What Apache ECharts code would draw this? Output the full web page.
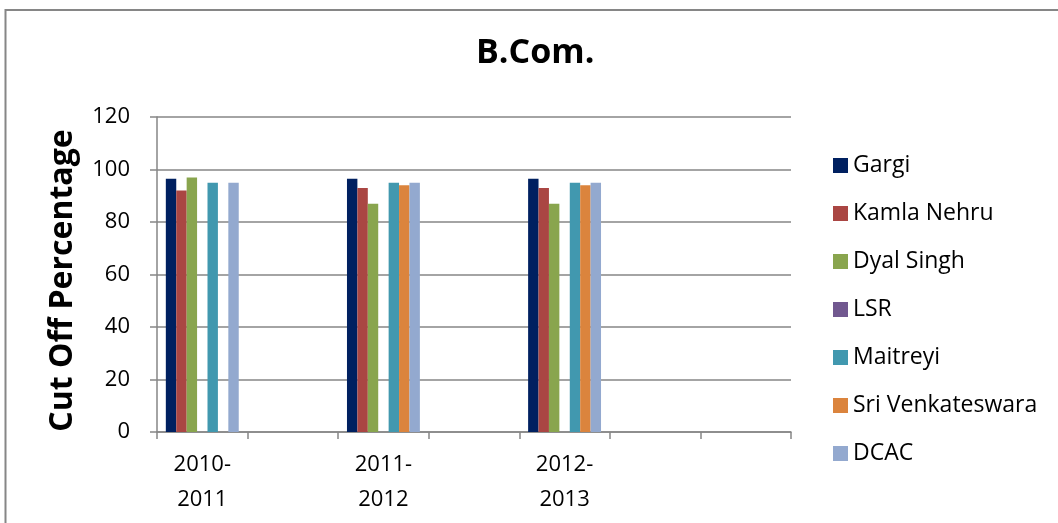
<!DOCTYPE html>
<html>
<head>
<meta charset="utf-8">
<script src="https://cdn.jsdelivr.net/npm/echarts@6/dist/echarts.min.js"></script>
<style>
  html, body { margin: 0; padding: 0; background: #fff; }
  #main { width: 1058px; height: 523px; }
</style>
</head>
<body>
<div id="main"></div>
<script>
// categories (empty slots are the blank categories on the x axis)
var years = ['2010-\n2011', '', '2011-\n2012', '', '2012-\n2013', '', ''];
var yTicks = [0, 20, 40, 60, 80, 100, 120];

var gargi = [96.5, null, 96.5, null, 96.5, null, null];
var kamlaNehru = [92, null, 93, null, 93, null, null];
var dyalSingh = [97, null, 87, null, 87, null, null];
var lsr = [null, null, null, null, null, null, null];
var maitreyi = [95, null, 95, null, 95, null, null];
var sriVenkateswara = [null, null, 94, null, 94, null, null];
var dcac = [95, null, 95, null, 95, null, null];

var colleges = ['Gargi', 'Kamla Nehru', 'Dyal Singh', 'LSR', 'Maitreyi', 'Sri Venkateswara', 'DCAC'];
var values = [gargi, kamlaNehru, dyalSingh, lsr, maitreyi, sriVenkateswara, dcac];
var colors = ['#002060', '#AA4643', '#89A54E', '#71588F', '#4198AF', '#DB843D', '#93A9CF'];

var font = 'Open Sans';

var series = colleges.map(function (name, i) {
  return {
    name: name,
    type: 'bar',
    data: values[i],
    barWidth: '11.5%',
    barGap: '0%',
    itemStyle: { color: colors[i] }
  };
});

var myChart = echarts.init(document.getElementById('main'));
myChart.setOption({
  backgroundColor: '#fff',
  animation: false,
  color: colors,
  title: {
    text: 'B.Com.',
    left: 476,
    top: 36,
    padding: 0,
    textStyle: { fontFamily: font, fontSize: 34, fontWeight: 'bold', color: '#000' }
  },
  graphic: [{
    type: 'rect',
    shape: { x: 5.5, y: 10, width: 1070, height: 540 },
    style: { fill: null, stroke: '#868686', lineWidth: 2 },
    silent: true
  }],
  legend: {
    orient: 'vertical',
    left: 833,
    top: 154,
    itemWidth: 15,
    itemHeight: 15,
    itemGap: 25,
    icon: 'rect',
    padding: 0,
    data: colleges,
    textStyle: { fontFamily: font, fontSize: 23, color: '#000' }
  },
  grid: {
    left: 157,
    top: 117,
    width: 634,
    height: 315
  },
  xAxis: {
    type: 'category',
    data: years,
    boundaryGap: true,
    axisLine: { lineStyle: { color: '#868686', width: 1.5 } },
    axisTick: { show: true, length: 7, lineStyle: { color: '#868686', width: 1.5 } },
    axisLabel: {
      interval: 0,
      margin: 15,
      fontFamily: font,
      fontSize: 22,
      lineHeight: 35,
      color: '#000'
    }
  },
  yAxis: {
    type: 'value',
    min: yTicks[0],
    max: yTicks[yTicks.length - 1],
    interval: 20,
    name: 'Cut Off Percentage',
    nameLocation: 'middle',
    nameRotate: 90,
    nameGap: 78,
    nameTextStyle: { fontFamily: font, fontSize: 32, fontWeight: 'bold', color: '#000', padding: [0, 12, 0, 0] },
    axisLine: { show: true, lineStyle: { color: '#868686', width: 1.5 } },
    axisTick: { show: true, length: 7, lineStyle: { color: '#868686', width: 1.5 } },
    axisLabel: { margin: 27, fontFamily: font, fontSize: 22, color: '#000' },
    splitLine: { show: true, lineStyle: { color: '#868686', width: 1.5 } }
  },
  series: series
});
</script>
</body>
</html>
